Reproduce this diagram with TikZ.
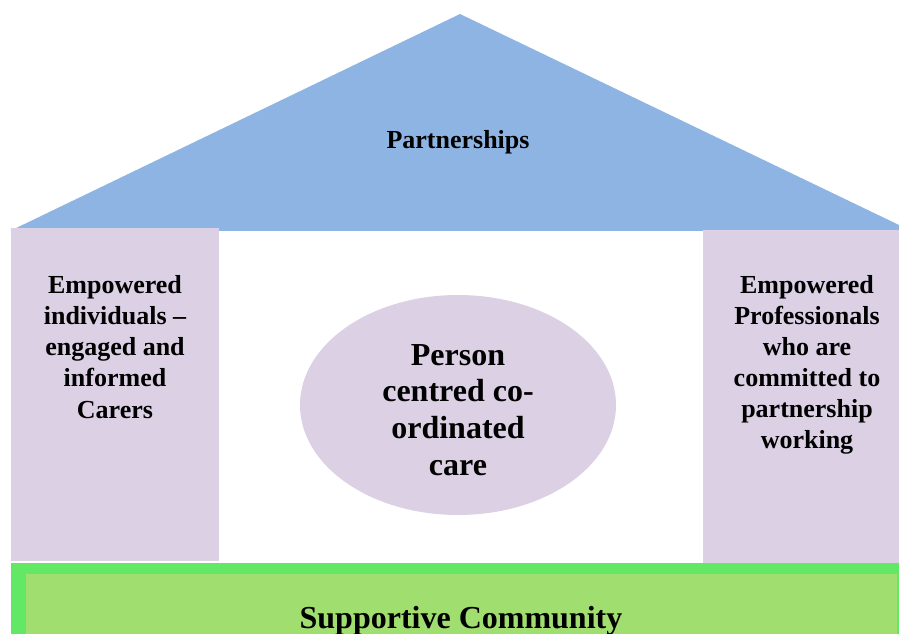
\documentclass[tikz,border=0pt]{standalone}
\usepackage{fontspec}
\setmainfont{Liberation Serif}
\definecolor{roofblue}{HTML}{8EB4E3}
\definecolor{lilac}{HTML}{DBD0E4}
\definecolor{grassdark}{HTML}{62E865}
\definecolor{grasslight}{HTML}{A0DF6F}
\begin{document}
\begin{tikzpicture}[x=0.75pt,y=-0.75pt,
    pillar/.style={fill=lilac,draw=none},
    label/.style={font=\bfseries\fontsize{19.5}{23.3}\selectfont,align=center,inner sep=0pt},
    biglabel/.style={font=\bfseries\fontsize{24}{27.5}\selectfont,align=center,inner sep=0pt}]
    \useasboundingbox (0,0) rectangle (899,634);
    \clip (0,0) rectangle (899,634);
    \fill [roofblue] (10,231) -- (460,14) -- (899,225) -- (899,231) -- cycle;
    \fill [pillar] (11,228) rectangle (219,561);
    \fill [pillar] (703,230) rectangle (899,563);
    \fill [grassdark] (11,563) rectangle (899,640);
    \fill [grasslight] (26,574) rectangle (897,640);
    \fill [lilac] (458,405) ellipse [x radius=158, y radius=110];
    \node [label] (roof) at (458,142) {Partnerships};
    \node [label] (carers) at (115,347) {Empowered\\individuals --\\engaged and\\informed\\Carers};
    \node [label] (prof) at (807,365) {Empowered\\Professionals\\who are\\committed to\\partnership\\working};
    \node [biglabel] (care) at (458,410) {Person\\centred co-\\ordinated\\care};
    \node [biglabel] (community) at (461,621) {Supportive Community};
\end{tikzpicture}
\end{document}
